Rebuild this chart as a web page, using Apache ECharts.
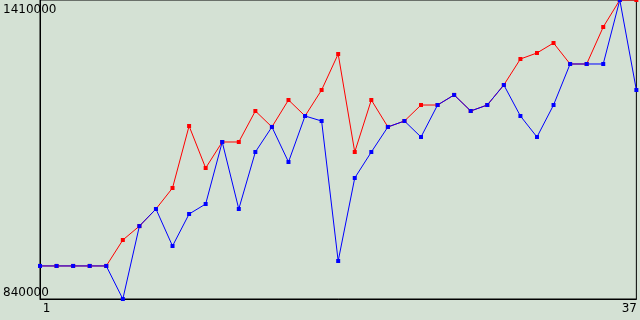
<!DOCTYPE html>
<html>
<head>
<meta charset="utf-8">
<script src="https://cdn.jsdelivr.net/npm/echarts@6/dist/echarts.min.js"></script>
<style>
  html, body { margin: 0; padding: 0; background: #d4e1d4; }
  #chart { width: 640px; height: 320px; }
</style>
</head>
<body>
<div id="chart"></div>
<script>
// x categories 1..37
const categories = ['1','2','3','4','5','6','7','8','9','10','11','12','13','14','15','16','17','18','19',
  '20','21','22','23','24','25','26','27','28','29','30','31','32','33','34','35','36','37'];

// red series (drawn underneath)
const redValues = [903000, 903000, 903000, 903000, 903000, 952500, 979000, 1011600, 1051600, 1169800,
  1089700, 1139300, 1139300, 1198400, 1168000, 1219400, 1188900, 1238400, 1307100, 1120200,
  1219400, 1168000, 1179300, 1209800, 1209800, 1229000, 1198400, 1209800, 1248000, 1297500,
  1309000, 1328000, 1288000, 1288000, 1358500, 1410000, 1410000];

// blue series (drawn on top)
const blueValues = [903000, 903000, 903000, 903000, 903000, 840000, 979000, 1011600, 941000, 1002000,
  1021100, 1139300, 1011600, 1120200, 1168000, 1101200, 1188900, 1179300, 912400, 1070700,
  1120200, 1168000, 1179300, 1148800, 1209800, 1229000, 1198400, 1209800, 1248000, 1188900,
  1148800, 1209800, 1288000, 1288000, 1288000, 1410000, 1238400];

const yMin = 840000;
const yMax = 1410000;

const chart = echarts.init(document.getElementById('chart'));

const labelFont = { color: '#000', fontFamily: 'DejaVu Sans', fontSize: 12 };

chart.setOption({
  animation: false,
  backgroundColor: '#d4e1d4',
  grid: {
    left: 40, right: 0, top: 0, bottom: 21,
    show: true,
    backgroundColor: '#d4e1d4',
    borderColor: '#000',
    borderWidth: 1
  },
  xAxis: {
    type: 'category',
    data: categories,
    boundaryGap: false,
    axisLine: { lineStyle: { color: '#000', width: 1 } },
    axisTick: { show: false },
    splitLine: { show: false },
    axisLabel: Object.assign({
      margin: 4,
      interval: function (i) { return i === 0 || i === categories.length - 1; },
      formatter: function (v, i) {
        return i === 0 ? '{l|' + v + '}' : '{r|' + v + '}';
      },
      rich: {
        l: { padding: [0, 0, 0, 13], fontFamily: 'DejaVu Sans', fontSize: 12 },
        r: { padding: [0, 14, 0, 0], fontFamily: 'DejaVu Sans', fontSize: 12 }
      }
    }, labelFont)
  },
  yAxis: [
    {
      type: 'value',
      min: yMin, max: yMax, interval: yMax - yMin,
      axisLine: { show: true, lineStyle: { color: '#000', width: 1 } },
      axisTick: { show: false },
      splitLine: { show: false },
      axisLabel: Object.assign({
        align: 'left', margin: 37, verticalAlign: 'top', padding: [4, 0, 0, 0],
        showMinLabel: false, showMaxLabel: true,
        formatter: function (v) { return v === yMax ? String(v) : ''; }
      }, labelFont)
    },
    {
      type: 'value',
      position: 'left',
      min: yMin, max: yMax, interval: yMax - yMin,
      axisLine: { show: false },
      axisTick: { show: false },
      splitLine: { show: false },
      axisLabel: Object.assign({
        align: 'left', margin: 37, verticalAlign: 'bottom',
        showMinLabel: true, showMaxLabel: false,
        formatter: function (v) { return v === yMin ? String(v) : ''; }
      }, labelFont)
    }
  ],
  series: [
    {
      name: 'red',
      type: 'line',
      data: redValues,
      symbol: 'rect',
      symbolSize: 4,
      clip: false,
      lineStyle: { color: '#ff0000', width: 1 },
      itemStyle: { color: '#ff0000' }
    },
    {
      name: 'blue',
      type: 'line',
      data: blueValues,
      symbol: 'rect',
      symbolSize: 4,
      clip: false,
      lineStyle: { color: '#0000ff', width: 1 },
      itemStyle: { color: '#0000ff' }
    }
  ]
});
</script>
</body>
</html>
